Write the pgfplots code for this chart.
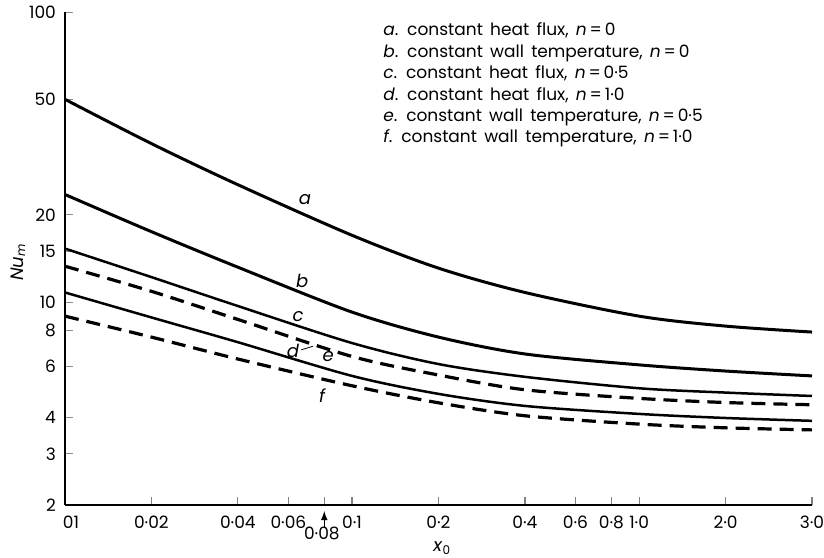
\documentclass[border=0pt]{standalone}
\usepackage{fontspec}
\setmainfont{Poppins}
\newfontfamily\legfont{Poppins}[WordSpace=1.6]
\usepackage{pgfplots}
\usepackage{pgfplotstable}
\pgfplotsset{compat=1.18}
\pgfplotstableread{
x y
0.01 50
0.02 35.2
0.04 25.4
0.1 17.0
0.2 13.1
0.4 10.8
1.0 8.95
2.0 8.27
4.0 7.89
}\curvea
\pgfplotstableread{
x y
0.01 23.5
0.02 17.5
0.04 13.2
0.1 9.24
0.2 7.58
0.4 6.63
1.0 6.08
2.0 5.79
4.0 5.57
}\curveb
\pgfplotstableread{
x y
0.01 15.3
0.02 12.2
0.04 9.7
0.1 7.23
0.2 6.12
0.4 5.53
1.0 5.05
2.0 4.88
4.0 4.75
}\curvec
\pgfplotstableread{
x y
0.01 10.8
0.02 8.86
0.04 7.28
0.1 5.57
0.2 4.83
0.4 4.39
1.0 4.12
2.0 3.99
4.0 3.90
}\curved
\pgfplotstableread{
x y
0.01 13.3
0.02 10.9
0.04 8.72
0.1 6.5
0.2 5.61
0.4 4.99
1.0 4.66
2.0 4.51
4.0 4.43
}\curvee
\pgfplotstableread{
x y
0.01 8.95
0.02 7.58
0.04 6.37
0.1 5.15
0.2 4.50
0.4 4.06
1.0 3.80
2.0 3.69
4.0 3.63
}\curvef
\newcommand\lfont{\fontsize{9}{10.5}\selectfont}
\begin{document}
\begin{tikzpicture}
\begin{axis}[
  at={(0pt,0pt)}, anchor=south west,
  scale only axis, width=373.5pt, height=246.5pt,
  xmode=log, ymode=log,
  xmin=0.01, xmax=4.0, ymin=2, ymax=100,
  axis x line=bottom, axis y line=left,
  axis line style={-, line width=1.3pt},
  clip=false,
  tick align=inside,
  major tick length=4pt,
  minor tick num=0,
  minor tick style={draw=none},
  xtick={0.01,0.02,0.04,0.06,0.08,0.1,0.2,0.4,0.6,0.8,1,2,4},
  xticklabels={\makebox[0pt][l]{\hspace{-1pt}01},0·02,0·04,0·06,{},0·1,0·2,0·4,0·6,0·8,1·0,2·0,3·0},
  ytick={2,3,4,6,8,10,15,20,50,100},
  yticklabels={2,3,4,6,8,10,15,20,50,100},
  x tick style={line width=0.6pt},
  y tick style={line width=0.4pt, black!45},
  tick label style={font=\fontsize{8.5}{10}\selectfont},
  xticklabel style={yshift=-2pt},
  yticklabel style={xshift=-1pt},
  xlabel={\textit{x}\textsubscript{0}},
  ylabel={\textit{Nu}\textsubscript{\textit{m}}},
  xlabel style={at={(axis description cs:0.505,-0.087)}, anchor=center, font=\lfont},
  ylabel style={at={(axis description cs:-0.063,0.493)}, anchor=center, font=\lfont},
]
\addplot[black, line width=1.5pt, smooth] table[x=x,y=y] {\curvea};
\addplot[black, line width=1.5pt, smooth] table[x=x,y=y] {\curveb};
\addplot[black, line width=1.25pt, smooth] table[x=x,y=y] {\curvec};
\addplot[black, line width=1.25pt, smooth] table[x=x,y=y] {\curved};
\addplot[black, line width=1.6pt, smooth, dash pattern=on 7pt off 4pt] table[x=x,y=y] {\curvee};
\addplot[black, line width=1.6pt, smooth, dash pattern=on 7pt off 4pt] table[x=x,y=y] {\curvef};
\node[font=\lfont\itshape] at (axis cs:0.0685,22.6) {a};
\node[font=\lfont\itshape] at (axis cs:0.0670,11.8) {b};
\node[font=\lfont\itshape] at (axis cs:0.0648,8.95) {c};
\node[font=\lfont\itshape] at (axis cs:0.0623,6.79) {d};
\node[font=\lfont\itshape] at (axis cs:0.0825,6.47) {e};
\node[font=\lfont\itshape] at (axis cs:0.0786,4.75) {f};
\draw[line width=0.4pt] (axis cs:0.0665,6.85) -- (axis cs:0.0731,7.05);
\draw[line width=0.6pt, -latex] (axis cs:0.08,2) ++(0pt,-11.5pt) -- ++(0pt,8.5pt);
\node[font=\fontsize{8.5}{10}\selectfont] at ([yshift=-14pt]axis cs:0.0785,2) {0·08};
\end{axis}
\begin{scope}[font=\legfont\fontsize{8.5}{10.5}\selectfont]
\node[anchor=base west, inner sep=0pt] at (159pt,234.5pt) {\textit{a}. constant heat flux, \textit{n}\,=\,0};
\node[anchor=base west, inner sep=0pt] at (159pt,223.8pt) {\textit{b}. constant wall temperature, \textit{n}\,=\,0};
\node[anchor=base west, inner sep=0pt] at (159pt,213.1pt) {\textit{c}. constant heat flux, \textit{n}\,=\,0·5};
\node[anchor=base west, inner sep=0pt] at (159pt,202.4pt) {\textit{d}. constant heat flux, \textit{n}\,=\,1·0};
\node[anchor=base west, inner sep=0pt] at (159pt,191.7pt) {\textit{e}. constant wall temperature, \textit{n}\,=\,0·5};
\node[anchor=base west, inner sep=0pt] at (159pt,181.0pt) {\textit{f}. constant wall temperature, \textit{n}\,=\,1·0};
\end{scope}
\pgfresetboundingbox
\path (-32.5pt,-26pt) rectangle (379.5pt,252.5pt);
\end{tikzpicture}
\end{document}
